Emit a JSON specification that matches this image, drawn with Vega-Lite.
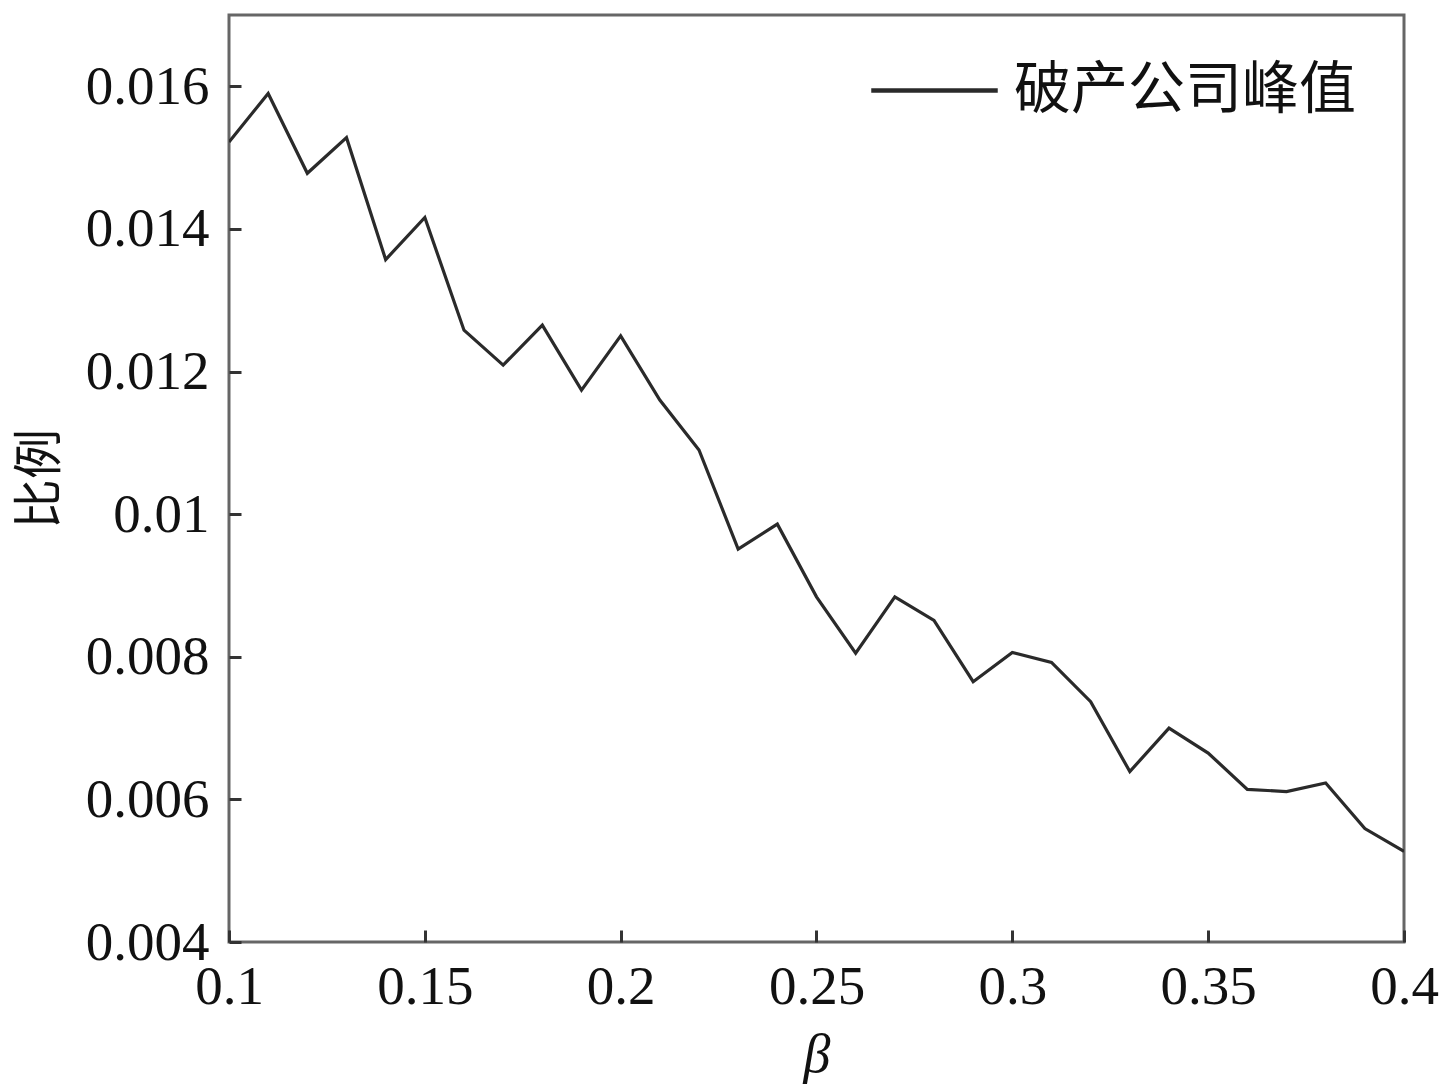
{
  "$schema": "https://vega.github.io/schema/vega-lite/v6.json",
  "width": 1175,
  "height": 927,
  "autosize": {"type": "none"},
  "padding": {"left": 229, "top": 15, "right": 38, "bottom": 147},
  "background": "white",
  "config": {
    "view": {"stroke": "#666666", "strokeWidth": 3},
    "font": "Liberation Serif"
  },
  "data": {
    "values": [
      {"beta": 0.10, "ratio": 0.01522, "series": "破产公司峰值"},
      {"beta": 0.11, "ratio": 0.01590, "series": "破产公司峰值"},
      {"beta": 0.12, "ratio": 0.01478, "series": "破产公司峰值"},
      {"beta": 0.13, "ratio": 0.01528, "series": "破产公司峰值"},
      {"beta": 0.14, "ratio": 0.01357, "series": "破产公司峰值"},
      {"beta": 0.15, "ratio": 0.01416, "series": "破产公司峰值"},
      {"beta": 0.16, "ratio": 0.01258, "series": "破产公司峰值"},
      {"beta": 0.17, "ratio": 0.01209, "series": "破产公司峰值"},
      {"beta": 0.18, "ratio": 0.01265, "series": "破产公司峰值"},
      {"beta": 0.19, "ratio": 0.01174, "series": "破产公司峰值"},
      {"beta": 0.20, "ratio": 0.01250, "series": "破产公司峰值"},
      {"beta": 0.21, "ratio": 0.01160, "series": "破产公司峰值"},
      {"beta": 0.22, "ratio": 0.01090, "series": "破产公司峰值"},
      {"beta": 0.23, "ratio": 0.00951, "series": "破产公司峰值"},
      {"beta": 0.24, "ratio": 0.00986, "series": "破产公司峰值"},
      {"beta": 0.25, "ratio": 0.00884, "series": "破产公司峰值"},
      {"beta": 0.26, "ratio": 0.00805, "series": "破产公司峰值"},
      {"beta": 0.27, "ratio": 0.00884, "series": "破产公司峰值"},
      {"beta": 0.28, "ratio": 0.00851, "series": "破产公司峰值"},
      {"beta": 0.29, "ratio": 0.00765, "series": "破产公司峰值"},
      {"beta": 0.30, "ratio": 0.00806, "series": "破产公司峰值"},
      {"beta": 0.31, "ratio": 0.00792, "series": "破产公司峰值"},
      {"beta": 0.32, "ratio": 0.00737, "series": "破产公司峰值"},
      {"beta": 0.33, "ratio": 0.00639, "series": "破产公司峰值"},
      {"beta": 0.34, "ratio": 0.00700, "series": "破产公司峰值"},
      {"beta": 0.35, "ratio": 0.00665, "series": "破产公司峰值"},
      {"beta": 0.36, "ratio": 0.00614, "series": "破产公司峰值"},
      {"beta": 0.37, "ratio": 0.00611, "series": "破产公司峰值"},
      {"beta": 0.38, "ratio": 0.00623, "series": "破产公司峰值"},
      {"beta": 0.39, "ratio": 0.00559, "series": "破产公司峰值"},
      {"beta": 0.40, "ratio": 0.00527, "series": "破产公司峰值"}
    ]
  },
  "mark": {"type": "line", "strokeWidth": 3.2, "clip": true},
  "encoding": {
    "x": {
      "field": "beta",
      "type": "quantitative",
      "scale": {"domain": [0.1, 0.4], "nice": false, "zero": false},
      "axis": {
        "title": "β",
        "titleFont": "Liberation Serif",
        "titleFontStyle": "italic",
        "titleFontWeight": "normal",
        "titleFontSize": 54,
        "titleColor": "#111111",
        "titlePadding": 14,
        "values": [0.1, 0.15, 0.2, 0.25, 0.3, 0.35, 0.4],
        "labelExpr": "datum.value == 0.1 ? '0.1' : datum.value == 0.2 ? '0.2' : datum.value == 0.3 ? '0.3' : datum.value == 0.4 ? '0.4' : format(datum.value, '.2f')",
        "labelFont": "Liberation Serif",
        "labelFontSize": 55,
        "labelColor": "#111111",
        "labelFlush": false,
        "labelOverlap": false,
        "labelPadding": 30,
        "tickSize": -12,
        "tickColor": "#333333",
        "tickWidth": 3,
        "domain": false,
        "grid": false
      }
    },
    "y": {
      "field": "ratio",
      "type": "quantitative",
      "scale": {"domain": [0.004, 0.017], "nice": false, "zero": false},
      "axis": {
        "title": "比例",
        "titleFont": "Noto Sans CJK SC",
        "titleFontWeight": "normal",
        "titleFontSize": 50,
        "titleColor": "#111111",
        "titlePadding": 20,
        "values": [0.004, 0.006, 0.008, 0.01, 0.012, 0.014, 0.016],
        "labelExpr": "datum.value == 0.01 ? '0.01' : format(datum.value, '.3f')",
        "labelFont": "Liberation Serif",
        "labelFontSize": 55,
        "labelColor": "#111111",
        "labelPadding": 32,
        "labelOverlap": false,
        "labelFlush": false,
        "tickSize": -12,
        "tickColor": "#333333",
        "tickWidth": 3,
        "domain": false,
        "grid": false
      }
    },
    "color": {
      "field": "series",
      "type": "nominal",
      "scale": {"range": ["#2a2a2a"]},
      "legend": {
        "title": null,
        "orient": "none",
        "legendX": 640,
        "legendY": 10,
        "symbolType": "stroke",
        "symbolStrokeWidth": 4.5,
        "symbolSize": 16000,
        "labelFont": "Noto Sans CJK SC",
        "labelFontSize": 57,
        "labelColor": "#111111",
        "labelOffset": 14,
        "labelLimit": 600
      }
    }
  }
}
